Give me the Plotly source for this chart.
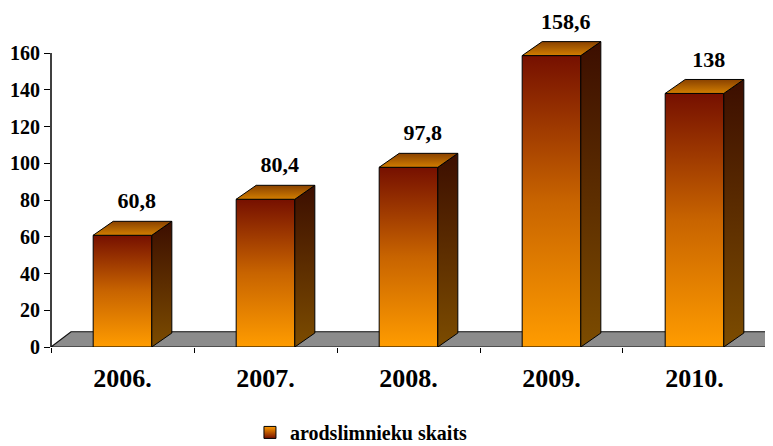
import plotly.graph_objects as go

years = ['2006.', '2007.', '2008.', '2009.', '2010.']
values = [60.8, 80.4, 97.8, 158.6, 138]
series_name = 'arodslimnieku skaits'
y_ticks = [0, 20, 40, 60, 80, 100, 120, 140, 160]

FONT = 'Liberation Serif'
HW = 0.205   # half bar width (category units)
DX = 0.14    # depth offset x
DY = 7.6     # depth offset y

front_scale = [[0, '#ff9c00'], [0.5, '#c86400'], [1, '#761000']]
side_scale = [[0, '#7c4c00'], [1, '#3c0e00']]
top_scale = [[0, '#d27e00'], [1, '#8a4200']]

fig = go.Figure()

# grey floor
x0, x1 = -0.5, len(years) - 0.5
fig.add_trace(go.Scatter(
    x=[x0, x1, x1 + DX, x0 + DX, x0], y=[0, 0, DY + 0.7, DY + 0.7, 0],
    mode='lines', fill='toself', fillcolor='#8c8c8c',
    line=dict(color='#111111', width=1.2), hoverinfo='skip', showlegend=False))

for i, v in enumerate(values):
    l, r = i - HW, i + HW
    # front face
    fig.add_trace(go.Scatter(
        x=[l, r, r, l, l], y=[0, 0, v, v, 0], mode='lines', fill='toself',
        fillgradient=dict(type='vertical', colorscale=front_scale, start=0, stop=v),
        line=dict(color='#000000', width=1), hoverinfo='skip', showlegend=False))
    # side face
    fig.add_trace(go.Scatter(
        x=[r, r + DX, r + DX, r, r], y=[0, DY, v + DY, v, 0], mode='lines', fill='toself',
        fillgradient=dict(type='vertical', colorscale=side_scale, start=0, stop=v + DY),
        line=dict(color='#000000', width=1), hoverinfo='skip', showlegend=False))
    # top face
    fig.add_trace(go.Scatter(
        x=[l, r, r + DX, l + DX, l], y=[v, v, v + DY, v + DY, v], mode='lines', fill='toself',
        fillgradient=dict(type='vertical', colorscale=top_scale, start=v, stop=v + DY),
        line=dict(color='#000000', width=1), hoverinfo='skip', showlegend=False))

# data labels
fig.add_trace(go.Scatter(
    x=[i + 0.1 for i in range(len(values))], y=[v + DY + 10 for v in values],
    mode='text', text=[f'{v:g}'.replace('.', ',') for v in values],
    textfont=dict(family=FONT, size=22, color='#000000', weight='bold'),
    hoverinfo='skip', showlegend=False))

# legend entry
fig.add_trace(go.Scatter(
    x=[None], y=[None], mode='markers', name=series_name,
    marker=dict(symbol='square', size=12, color='#ff9c00',
                gradient=dict(type='vertical', color='#761000'),
                line=dict(color='#000000', width=1))))

# the page body adds an 8px margin, so the figure is 8px smaller and shifted
fig.update_layout(
    width=765, height=438,
    margin=dict(l=43, r=0, t=0, b=99, autoexpand=False),
    plot_bgcolor='white', paper_bgcolor='white',
    font=dict(family=FONT, color='#000000'),
    showlegend=True,
    legend=dict(orientation='h', x=0.43, y=-0.252, xanchor='center', yanchor='middle',
                font=dict(family=FONT, size=20, weight='bold'), itemwidth=30,
                tracegroupgap=0),
    xaxis=dict(range=[-0.5, 4.549], tickvals=list(range(len(years))), ticktext=years,
               ticks='', showgrid=False, zeroline=False, showline=False, automargin=False,
               tickfont=dict(family=FONT, size=26, weight='bold'), ticklabelstandoff=13),
    xaxis2=dict(overlaying='x', range=[-0.5, 4.549], side='bottom', anchor='y',
                tickvals=[i - 0.5 for i in range(len(years) + 1)], ticks='outside',
                ticklen=5, tickcolor='#000000', showticklabels=False, automargin=False,
                showgrid=False, zeroline=False, showline=False),
    yaxis=dict(range=[0, 184.5], tickvals=y_ticks, ticks='outside', ticklen=6,
               tickcolor='#000000', showgrid=False, zeroline=False, showline=False,
               automargin=False, tickfont=dict(family=FONT, size=20, weight='bold')),
)
fig.add_trace(go.Scatter(x=[None], y=[None], xaxis='x2', showlegend=False, hoverinfo='skip'))

# y axis line from 0 to 160
fig.add_shape(type='line', xref='paper', yref='y', x0=0, x1=0, y0=0, y1=y_ticks[-1],
              line=dict(color='#000000', width=1.5))

fig.write_html('out.html')
